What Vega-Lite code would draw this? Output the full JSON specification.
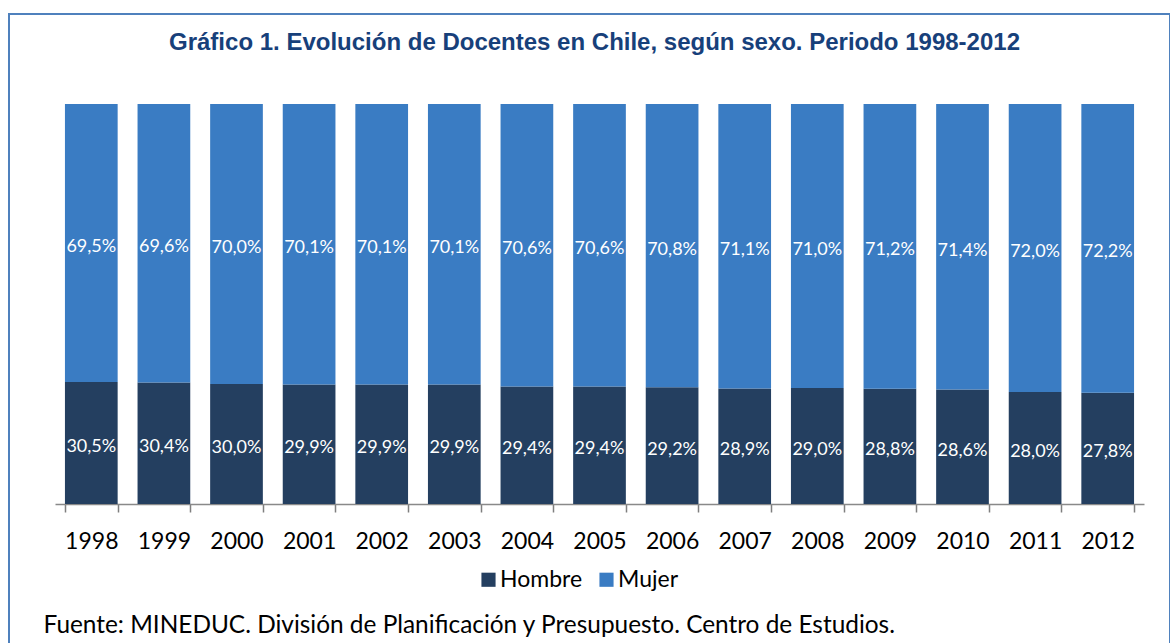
{
  "$schema": "https://vega.github.io/schema/vega-lite/v6.json",
  "width": 1161,
  "height": 632,
  "autosize": {"type": "none"},
  "padding": {"left": 9, "top": 14, "right": 0, "bottom": 0},
  "background": "white",
  "title": {
    "text": "Gráfico 1. Evolución de Docentes en Chile, según sexo. Periodo 1998-2012",
    "anchor": "middle",
    "frame": "group",
    "orient": "top",
    "baseline": "alphabetic",
    "offset": 0,
    "dy": 60,
    "dx": 5,
    "font": "Liberation Sans",
    "fontSize": 24,
    "fontWeight": "bold",
    "color": "#17407A"
  },
  "config": {
    "locale": {"number": {"decimal": ",", "thousands": ".", "grouping": [3], "currency": ["", " €"]}},
    "view": {"stroke": "#4F81BD", "strokeWidth": 2},
    "font": "Lato"
  },
  "data": {
    "values": [
      {"year": "1998", "sexo": "Hombre", "pct": 0.305}, {"year": "1998", "sexo": "Mujer", "pct": 0.695},
      {"year": "1999", "sexo": "Hombre", "pct": 0.304}, {"year": "1999", "sexo": "Mujer", "pct": 0.696},
      {"year": "2000", "sexo": "Hombre", "pct": 0.300}, {"year": "2000", "sexo": "Mujer", "pct": 0.700},
      {"year": "2001", "sexo": "Hombre", "pct": 0.299}, {"year": "2001", "sexo": "Mujer", "pct": 0.701},
      {"year": "2002", "sexo": "Hombre", "pct": 0.299}, {"year": "2002", "sexo": "Mujer", "pct": 0.701},
      {"year": "2003", "sexo": "Hombre", "pct": 0.299}, {"year": "2003", "sexo": "Mujer", "pct": 0.701},
      {"year": "2004", "sexo": "Hombre", "pct": 0.294}, {"year": "2004", "sexo": "Mujer", "pct": 0.706},
      {"year": "2005", "sexo": "Hombre", "pct": 0.294}, {"year": "2005", "sexo": "Mujer", "pct": 0.706},
      {"year": "2006", "sexo": "Hombre", "pct": 0.292}, {"year": "2006", "sexo": "Mujer", "pct": 0.708},
      {"year": "2007", "sexo": "Hombre", "pct": 0.289}, {"year": "2007", "sexo": "Mujer", "pct": 0.711},
      {"year": "2008", "sexo": "Hombre", "pct": 0.290}, {"year": "2008", "sexo": "Mujer", "pct": 0.710},
      {"year": "2009", "sexo": "Hombre", "pct": 0.288}, {"year": "2009", "sexo": "Mujer", "pct": 0.712},
      {"year": "2010", "sexo": "Hombre", "pct": 0.286}, {"year": "2010", "sexo": "Mujer", "pct": 0.714},
      {"year": "2011", "sexo": "Hombre", "pct": 0.280}, {"year": "2011", "sexo": "Mujer", "pct": 0.720},
      {"year": "2012", "sexo": "Hombre", "pct": 0.278}, {"year": "2012", "sexo": "Mujer", "pct": 0.722}
    ]
  },
  "encoding": {
    "x": {
      "field": "year",
      "type": "ordinal",
      "sort": null,
      "scale": {"range": [46, 1135], "paddingInner": 0.274, "paddingOuter": 0.137},
      "axis": {
        "orient": "bottom",
        "offset": -142,
        "tickBand": "extent",
        "labelAngle": 0,
        "labelFont": "Lato",
        "labelFontSize": 23,
        "labelColor": "#000000",
        "labelPadding": 18,
        "tickSize": 8,
        "tickWidth": 1.5,
        "tickColor": "#7F7F7F",
        "domainColor": "#898989",
        "domainWidth": 1.5,
        "ticks": true,
        "grid": false,
        "title": "Fuente: MINEDUC. División de Planificación y Presupuesto. Centro de Estudios.",
        "titleFont": "Lato",
        "titleFontSize": 24.4,
        "titleFontWeight": "normal",
        "titleColor": "#000000",
        "titleAlign": "left",
        "titleBaseline": "alphabetic",
        "titleX": 34,
        "titleY": 128
      }
    }
  },
  "layer": [
    {
      "mark": {"type": "bar"},
      "encoding": {
        "y": {
          "field": "pct",
          "type": "quantitative",
          "stack": "normalize",
          "scale": {"domain": [0, 1], "range": [490, 90]},
          "axis": null
        },
        "color": {
          "field": "sexo",
          "type": "nominal",
          "scale": {"domain": ["Hombre", "Mujer"], "range": ["#243F60", "#3A7CC3"]},
          "legend": {
            "title": null,
            "orient": "none",
            "direction": "horizontal",
            "legendX": 468,
            "legendY": 554,
            "padding": 0,
            "symbolType": "square",
            "symbolSize": 200,
            "symbolStrokeWidth": 0,
            "symbolOpacity": 1,
            "labelFont": "Lato",
            "labelFontSize": 23,
            "labelColor": "#000000",
            "labelOffset": 0,
            "columnPadding": 12
          }
        },
        "order": {"field": "sexo", "sort": "ascending"}
      }
    },
    {
      "mark": {"type": "text", "color": "white", "fontSize": 18, "font": "Lato", "dy": 4},
      "encoding": {
        "y": {
          "field": "pct",
          "type": "quantitative",
          "stack": "normalize",
          "bandPosition": 0.5
        },
        "text": {"field": "pct", "type": "quantitative", "format": ".1%"},
        "detail": {"field": "sexo"},
        "order": {"field": "sexo", "sort": "ascending"}
      }
    }
  ]
}
